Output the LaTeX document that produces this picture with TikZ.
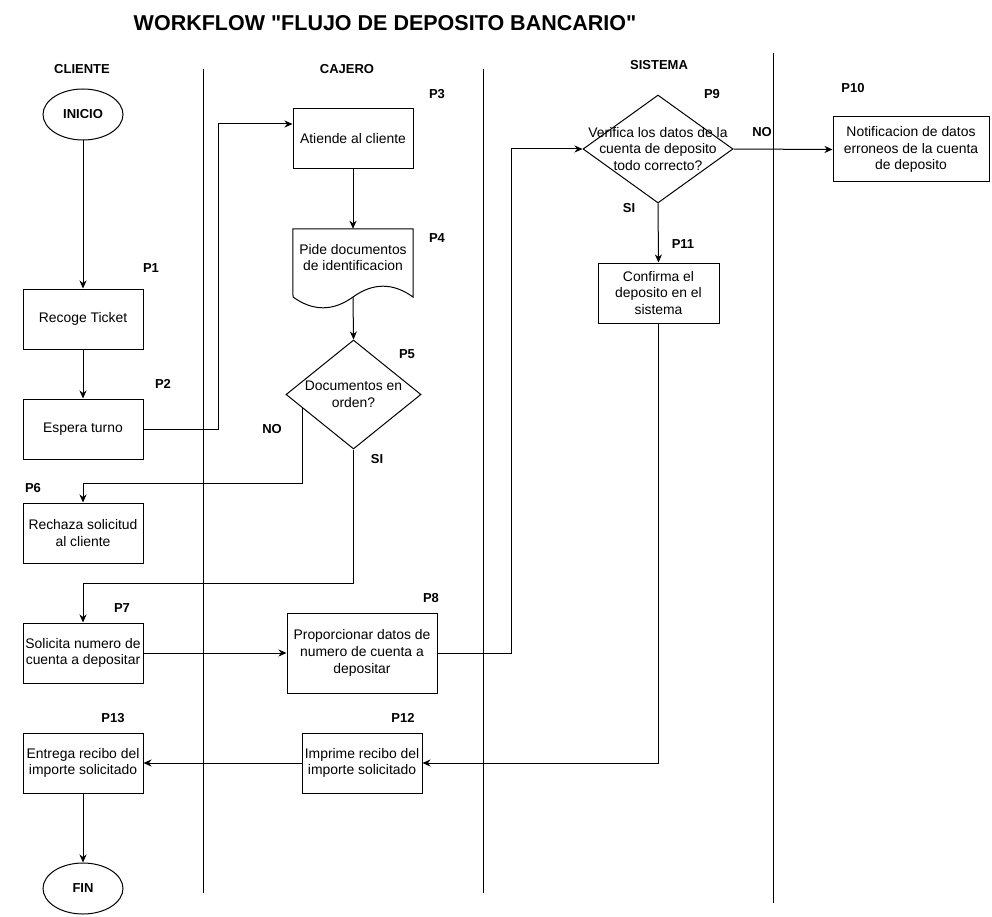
\documentclass[tikz,border=0pt]{standalone}
\usepackage{fontspec}
\setmainfont{Liberation Sans}[Ligatures=TeXOff]
\usepackage{tikz}
\usetikzlibrary{arrows.meta, calc, positioning, shapes.geometric}
\definecolor{Ink}{HTML}{000000}
\newcommand{\boxfont}{\fontsize{13.9}{16.7}\selectfont}
\newcommand{\tagfont}{\fontsize{13}{15}\selectfont\bfseries}
\tikzset{
  flow/.style={-{Stealth[length=8pt, width=7pt, inset=2.5pt]}, line width=1pt, color=Ink},
  link/.style={line width=1pt, color=Ink},
  lane/.style={line width=1pt, color=Ink},
  box/.style={draw=Ink, line width=1pt, minimum width=120pt, minimum height=60pt, inner sep=1pt, align=center, font=\boxfont},
  docbox/.style={draw=none, minimum width=120pt, minimum height=80pt, inner sep=0pt},
  decision/.style={draw=Ink, line width=1pt, shape=diamond, inner sep=0pt},
  terminal/.style={draw=Ink, line width=1pt, shape=ellipse, minimum width=80pt, minimum height=51pt, inner sep=0pt, font=\tagfont},
  txt/.style={align=center, font=\boxfont, inner sep=0pt},
  tag/.style={color=Ink, font=\tagfont, inner sep=0pt},
}

\begin{document}
\begin{tikzpicture}[x=1pt, y=-1pt]
  \useasboundingbox (0,0) rectangle (992,917);

  % Title
  \node[font=\fontsize{21.5}{24}\selectfont\bfseries] (title) at (385,23) {WORKFLOW "FLUJO DE DEPOSITO BANCARIO"};

  % Lanes
  \node[tag] (hcli) at (82,69) {CLIENTE};
  \node[tag] (hcaj) at (347,69) {CAJERO};
  \node[tag] (hsis) at (659,65) {SISTEMA};
  \draw[lane] (203,69) -- (203,893);
  \draw[lane] (483,69) -- (483,893);
  \draw[lane] (773,53) -- (773,903);

  % Cliente
  \node[terminal] (inicio) at (83,114.5) {INICIO};
  \node[box] (p1) at (83,319) {Recoge Ticket};
  \node[box] (p2) at (83,429) {Espera turno};
  \node[box] (p6) at (83,533) {Rechaza solicitud\\al cliente};
  \node[box] (p7) at (83,653) {Solicita numero de\\cuenta a depositar};
  \node[box] (p13) at (83,763) {Entrega recibo del\\importe solicitado};
  \node[terminal] (fin) at (83,888.5) {FIN};

  % Cajero
  \node[box] (p3) at (353,139) {Atiende al cliente};
  \node[docbox] (p4) at (353,269) {};
  \draw[link] (p4.north west) -- (p4.north east) -- (413,297)
    .. controls (393,282.6) and (373,282.6) .. (353,297)
    .. controls (333,311.4) and (313,311.4) .. (293,297) -- cycle;
  \node[txt] (p4t) at (353,257.5) {Pide documentos\\de identificacion};
  \node[decision, minimum width=135pt, minimum height=109pt] (p5) at (353.5,394.5) {};
  \node[txt] (p5t) at (p5) {Documentos en\\orden?};
  \node[box, minimum width=150pt, minimum height=80pt] (p8) at (362,653) {Proporcionar datos de\\numero de cuenta a\\depositar};
  \node[box] (p12) at (362,763) {Imprime recibo del\\importe solicitado};

  % Sistema
  \node[decision, minimum width=150pt, minimum height=108pt] (p9) at (658,149) {};
  \node[txt] (p9t) at (p9) {Verifica los datos de la\\cuenta de deposito\\todo correcto?};
  \node[box, minimum width=121pt] (p11) at (658.5,293) {Confirma el\\deposito en el\\sistema};
  \node[box, minimum width=156pt, minimum height=65pt] (p10) at (911,149.5) {Notificacion de datos\\erroneos de la cuenta\\de deposito};

  % Step tags
  \node[tag] (t1) at (151,268) {P1};
  \node[tag] (t2) at (163,384) {P2};
  \node[tag] (t3) at (437,94) {P3};
  \node[tag] (t4) at (437,238) {P4};
  \node[tag] (t5) at (407,354) {P5};
  \node[tag] (t6) at (33,488) {P6};
  \node[tag] (t7) at (122,608) {P7};
  \node[tag] (t8) at (431,598) {P8};
  \node[tag] (t9) at (712,94) {P9};
  \node[tag] (t10) at (853,88) {P10};
  \node[tag] (t11) at (683,244) {P11};
  \node[tag] (t12) at (403,718) {P12};
  \node[tag] (t13) at (113,718) {P13};
  \node[tag] (no5) at (272,429) {NO};
  \node[tag] (si5) at (377,459) {SI};
  \node[tag] (no9) at (762,132) {NO};
  \node[tag] (si9) at (629,208) {SI};

  % Bend points
  \coordinate (j23) at (218,124);
  \coordinate (jno) at (83,483);
  \coordinate (jsi) at (83,583);
  \coordinate (j89) at (511,149);
  \coordinate (p4b) at (353,297);

  % Connectors
  \draw[flow] (inicio) -- (p1);
  \draw[flow] (p1) -- (p2);
  \draw[flow] (p2.east) -| (j23) -- (p3.west |- j23);
  \draw[flow] (p3) -- (p4.north);
  \draw[flow] (p4b) -- (p5.north);
  \draw[flow] ($(p5.west)!0.25!(p5.south)$) |- (jno) -- (p6.north);
  \draw[flow] (p5.south) |- (jsi) -- (p7.north);
  \draw[flow] (p7) -- (p8);
  \draw[flow] (p8.east) -| (j89) -- (p9.west);
  \draw[flow] (p9.east) -- (p10.west);
  \draw[flow] (p9.south) -- (p11.north);
  \draw[flow] (p11.south) |- (p12.east);
  \draw[flow] (p12) -- (p13);
  \draw[flow] (p13) -- (fin);
\end{tikzpicture}
\end{document}
